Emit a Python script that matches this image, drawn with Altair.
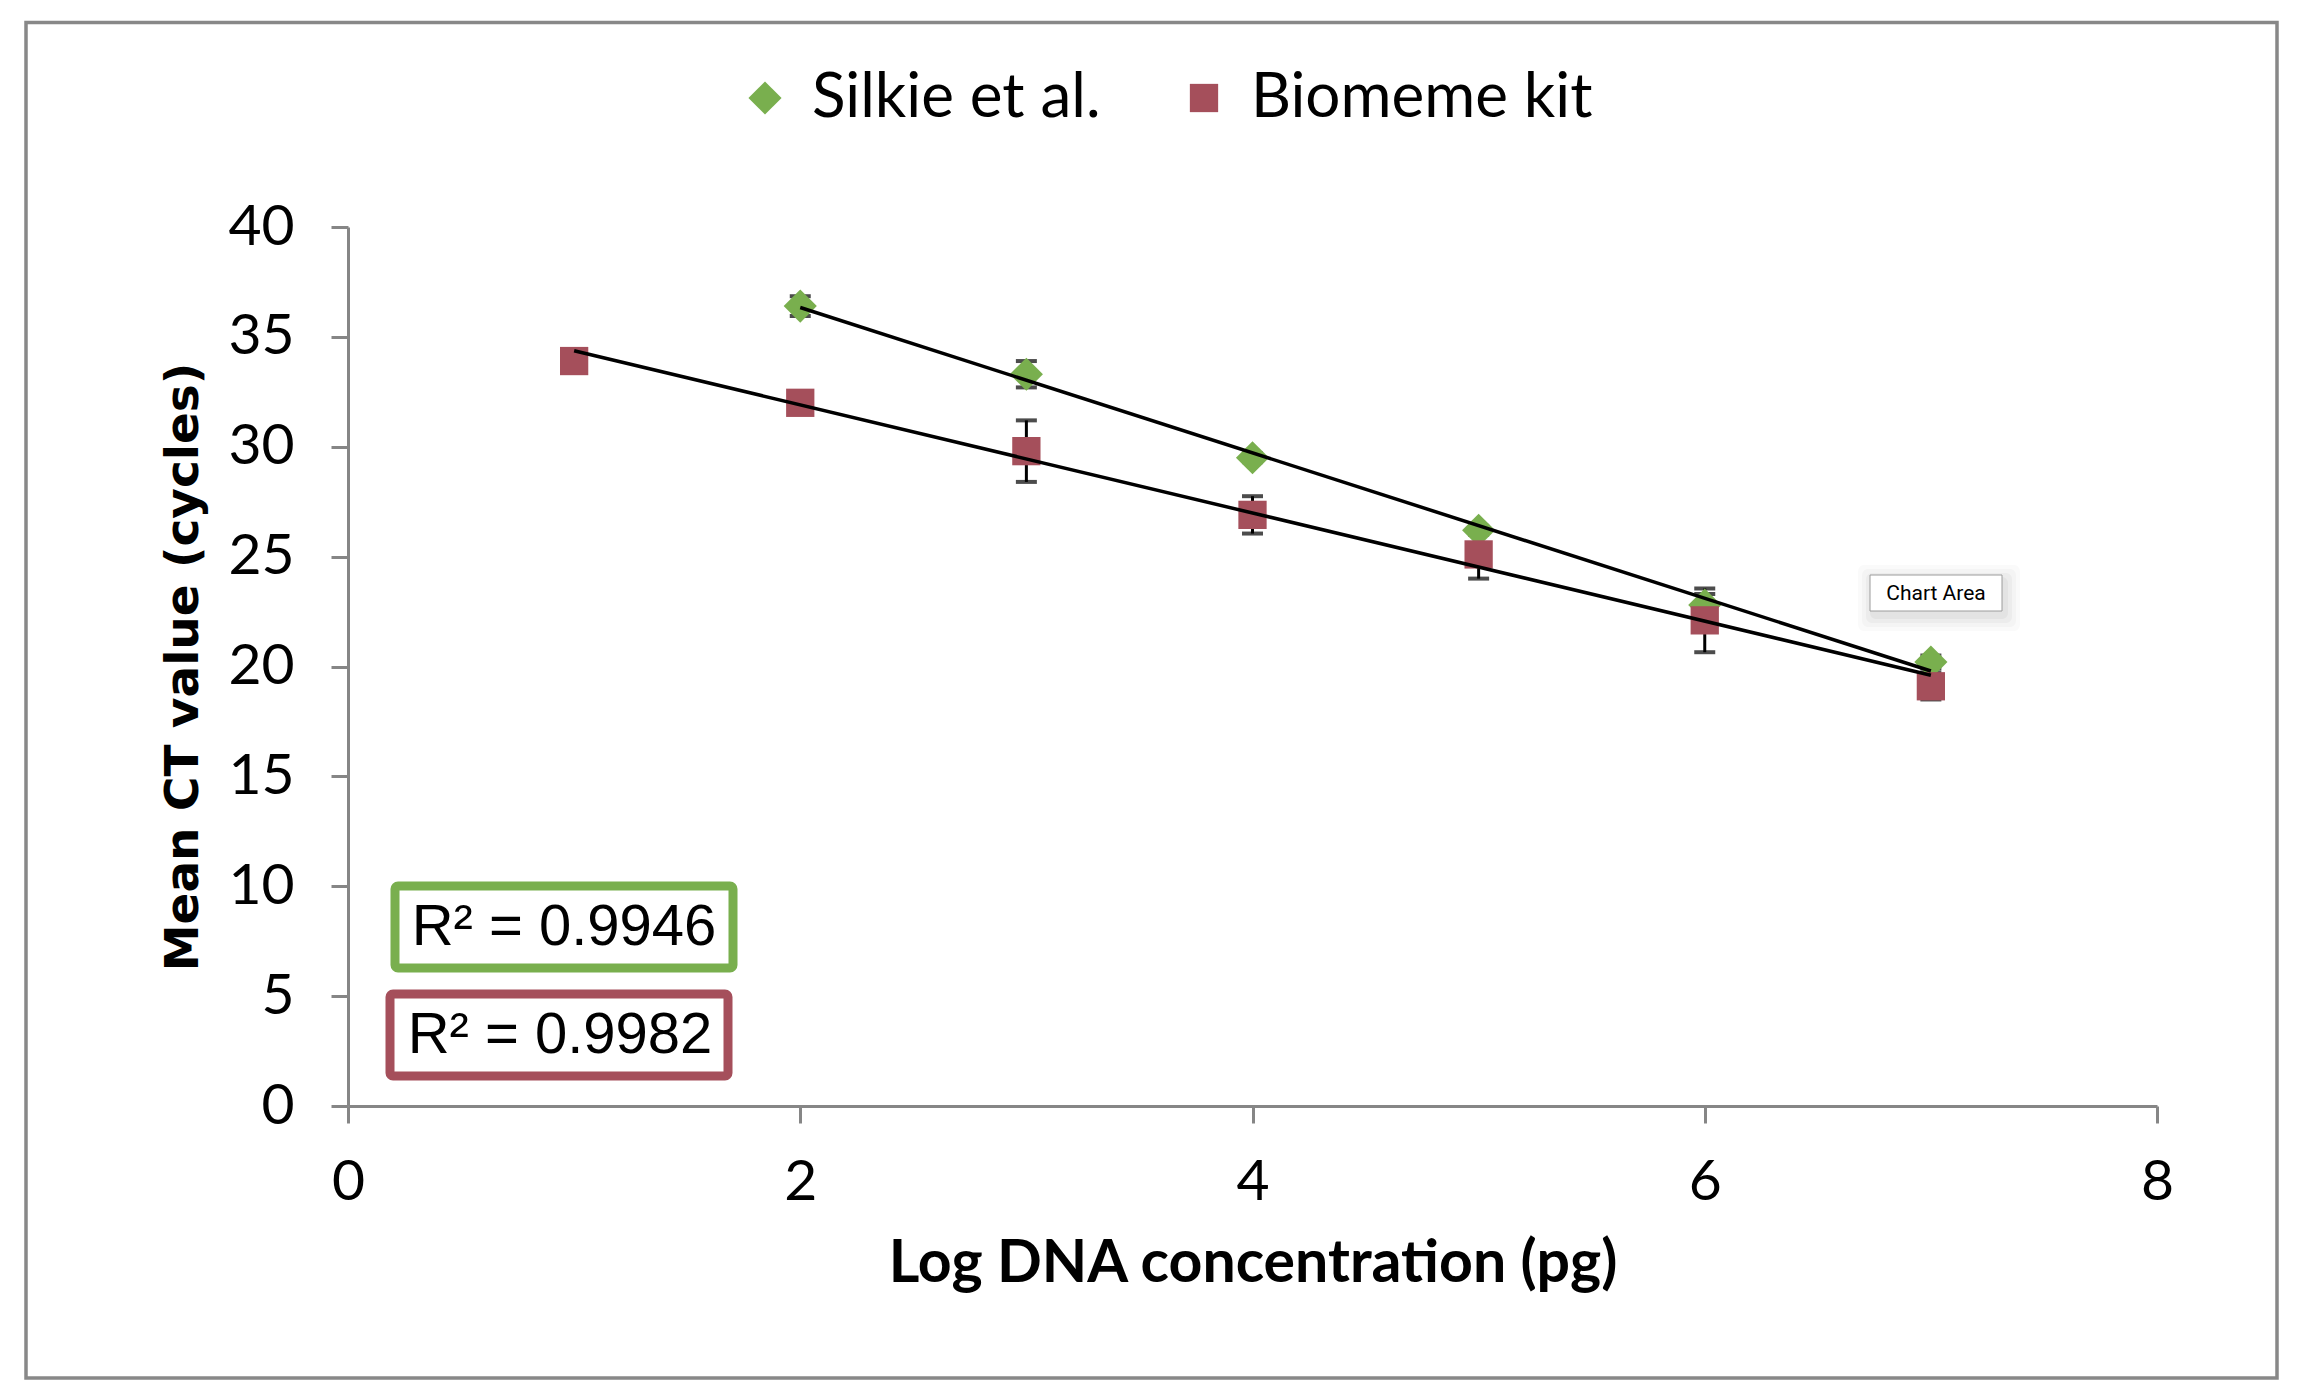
import altair as alt
import pandas as pd

# Standard-curve data: mean CT per log DNA concentration, with error bars
series_names = ["Silkie et al.", "Biomeme kit"]
series_colors = ["#79AF4E", "#A54F5B"]
series_shapes = ["diamond", "square"]

silkie_logc = [2, 3, 4, 5, 6, 7]
silkie_ct = [36.4, 33.3, 29.5, 26.2, 22.8, 20.2]
silkie_err = [0.45, 0.6, 0.2, 0.2, 0.5, 0.3]

biomeme_logc = [1, 2, 3, 4, 5, 6, 7]
biomeme_ct = [33.9, 32.0, 29.8, 26.9, 25.1, 22.1, 19.1]
biomeme_err = [0.3, 0.3, 1.4, 0.85, 1.1, 1.45, 0.6]

r2_labels = ["R\u00b2 = 0.9946", "R\u00b2 = 0.9982"]
x_ticks = [0, 2, 4, 6, 8]
y_ticks = [0, 5, 10, 15, 20, 25, 30, 35, 40]

rows = []
for name, xs, ys, es in [
    (series_names[0], silkie_logc, silkie_ct, silkie_err),
    (series_names[1], biomeme_logc, biomeme_ct, biomeme_err),
]:
    for x, y, e in zip(xs, ys, es):
        rows.append({"series": name, "logc": x, "ct": y, "lo": y - e, "hi": y + e})
df = pd.DataFrame(rows)

W, H = 1809, 879

x_enc = alt.X(
    "logc:Q",
    scale=alt.Scale(domain=[0, 8], nice=False, zero=False),
    axis=alt.Axis(
        values=x_ticks,
        format="d",
        labelFlush=False,
        title="Log DNA concentration (pg)",
        labelPadding=31,
        titleX=W / 2,
        titleY=157,
        titleAlign="center",
        titleBaseline="middle",
        titleFont="Lato",
        titleFontWeight="bold",
        titleFontSize=59,
    ),
)
y_scale = alt.Scale(domain=[0, 40], nice=False)
y_enc = alt.Y(
    "ct:Q",
    scale=y_scale,
    axis=alt.Axis(
        values=y_ticks,
        format="d",
        labelFlush=False,
        title="Mean CT value (cycles)",
        labelPadding=37,
        titleX=-165,
        titleY=H / 2,
        titleAngle=270,
        titleAlign="center",
        titleBaseline="middle",
        titleFont="DejaVu Sans",
        titleFontWeight="bold",
        titleFontSize=47,
    ),
)

color_enc = alt.Color(
    "series:N",
    scale=alt.Scale(domain=series_names, range=series_colors),
    legend=alt.Legend(title=None),
)
shape_enc = alt.Shape(
    "series:N",
    scale=alt.Scale(domain=series_names, range=series_shapes),
    legend=alt.Legend(title=None),
)

base = alt.Chart(df)

err_rules = base.mark_rule(color="black", strokeWidth=3).encode(
    x="logc:Q", y=alt.Y("lo:Q", scale=y_scale), y2="hi:Q"
)
err_caps = (
    base.transform_fold(["lo", "hi"], as_=["end", "val"])
    .mark_tick(color="black", thickness=4, size=21, orient="horizontal")
    .encode(x="logc:Q", y=alt.Y("val:Q", scale=y_scale))
)

points = base.mark_point(filled=True, opacity=1, strokeWidth=0).encode(
    x=x_enc,
    y=y_enc,
    color=color_enc,
    shape=shape_enc,
    size=alt.Size(
        "series:N",
        scale=alt.Scale(domain=series_names, range=[1100, 800]),
        legend=None,
    ),
)

trend = (
    base.transform_regression("logc", "ct", groupby=["series"])
    .mark_line(color="black", strokeWidth=3.5)
    .encode(x="logc:Q", y=alt.Y("ct:Q", scale=y_scale), detail="series:N")
)

# R-squared boxes, lower-left of the plot
r2_df = pd.DataFrame(
    {
        "label": r2_labels,
        "edge": series_colors,
        "x0": [47, 42],
        "x1": [385, 380],
        "y0": [659, 767],
        "y1": [741, 849],
        "tx": [216, 212],
        "ty": [701, 809],
    }
)
r2_boxes = alt.Chart(r2_df).mark_rect(
    fill="white", strokeWidth=9, cornerRadius=3
).encode(
    x=alt.X("x0:Q", scale=None),
    x2="x1:Q",
    y=alt.Y("y0:Q", scale=None),
    y2="y1:Q",
    stroke=alt.Stroke("edge:N", scale=None),
)
r2_text = alt.Chart(r2_df).mark_text(
    font="Liberation Sans", fontSize=58, color="black", align="center", baseline="middle"
).encode(
    x=alt.X("tx:Q", scale=None),
    y=alt.Y("ty:Q", scale=None),
    text="label:N",
)

# "Chart Area" hover label with a soft shadow
tip_df = pd.DataFrame({"t": ["Chart Area"]})
shadow_layers = []
for i, op in enumerate([0.035, 0.03, 0.025, 0.02]):
    g = 3 + 4 * i
    shadow_layers.append(
        alt.Chart(tip_df).mark_rect(fill="black", opacity=op, cornerRadius=6).encode(
            x=alt.value(1522 - g + 3),
            x2=alt.value(1654 + g + 3),
            y=alt.value(348 - g + 5),
            y2=alt.value(384 + g + 5),
        )
    )
tip_box = alt.Chart(tip_df).mark_rect(fill="white", stroke="#9c9c9c", strokeWidth=1).encode(
    x=alt.value(1522), x2=alt.value(1654), y=alt.value(348), y2=alt.value(384)
)
tip_text = alt.Chart(tip_df).mark_text(
    font="Roboto", fontSize=21, color="black", align="center", baseline="middle"
).encode(x=alt.value(1588), y=alt.value(367), text="t:N")

# Outer chart border
frame = alt.Chart(tip_df).mark_rect(fill=None, stroke="#888888", strokeWidth=3.5).encode(
    x=alt.value(-322), x2=alt.value(1929), y=alt.value(-204.5), y2=alt.value(1151)
)

chart = (
    alt.layer(
        frame,
        err_rules,
        err_caps,
        points,
        trend,
        r2_boxes,
        r2_text,
        *shadow_layers,
        tip_box,
        tip_text,
    )
    .properties(
        width=W,
        height=H,
        padding={"left": 348, "top": 227, "right": 141, "bottom": 288},
        autosize=alt.AutoSizeParams(type="none"),
        background="white",
    )
    .configure_view(stroke=None)
    .configure_axis(
        grid=False,
        domainColor="#868686",
        domainWidth=3,
        tickColor="#868686",
        tickWidth=3,
        tickSize=17,
        labelFont="Lato",
        labelFontSize=57,
        labelColor="black",
        titleColor="black",
    )
    .configure_legend(
        orient="none",
        legendX=386,
        legendY=-160,
        direction="horizontal",
        columns=2,
        padding=0,
        labelFont="Lato",
        labelFontSize=62,
        labelColor="black",
        labelLimit=1000,
        labelOffset=16,
        columnPadding=72,
        symbolSize=850,
        symbolStrokeWidth=0,
        symbolOpacity=1,
    )
)

chart.save("out.html", embed_options={"renderer": "svg", "actions": False})
